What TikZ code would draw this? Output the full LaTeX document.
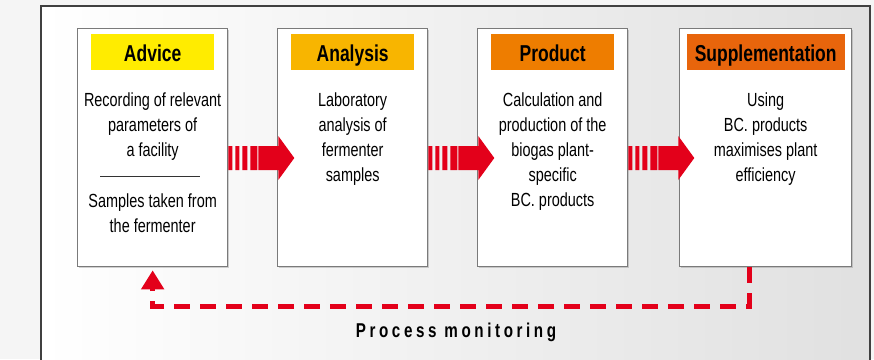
\documentclass[tikz,border=0pt]{standalone}
\usepackage{fontspec}
\setmainfont{Liberation Sans}[FakeStretch=0.76]
\usetikzlibrary{arrows.meta,shadows}
\definecolor{bcred}{HTML}{E3001A}
\definecolor{cadv}{HTML}{FFEC00}
\definecolor{cana}{HTML}{F8B500}
\definecolor{cprod}{HTML}{EE7D00}
\definecolor{csupp}{HTML}{E8650C}
\definecolor{boxline}{HTML}{7A7A7A}
\tikzset{
  stagebox/.style={draw=boxline, line width=1.3pt, fill=white, anchor=north west,
    minimum height=238pt, inner sep=0pt,
    drop shadow={shadow xshift=1pt, shadow yshift=-1pt, opacity=0.35}},
  hdr/.style={minimum height=36pt, inner sep=0pt, text=black,
    text height=18pt, text depth=0pt,
    font=\bfseries\fontsize{23}{23}\selectfont},
  body/.style={anchor=north, align=center, inner sep=0pt,
    font=\fontsize{19}{25}\selectfont},
  fb/.style={draw=bcred, line width=5pt, dash pattern=on 16pt off 10pt},
  stripearrow/.pic={
    \fill[bcred] (0,-12) rectangle (4,12) (7,-12) rectangle (11,12)
      (14,-12) rectangle (19,12) (22,-12) rectangle (29,12)
      (30,-12) rectangle (50,12)
      (50,-22) -- (66,0) -- (50,22) -- cycle;
  }
}
\begin{document}
\begin{tikzpicture}[x=1pt,y=-1pt]
\useasboundingbox (0,0) rectangle (874,359);
\fill[gray!8] (0,0) rectangle (874,359);
\shade[left color=white, right color=gray!24] (41,6) rectangle (870,372);
\draw[line width=1.8pt, black!75] (41,372) -- (41,6) -- (870,6) -- (870,372);

% boxes
\node[stagebox, minimum width=150pt] (b1) at (77,28) {};
\node[stagebox, minimum width=150pt] (b2) at (277,28) {};
\node[stagebox, minimum width=150pt] (b3) at (477,28) {};
\node[stagebox, minimum width=172pt] (b4) at (679,28) {};

% headers
\node[hdr, fill=cadv, minimum width=123pt] (h1) at (b1.north |- 0,52) {Advice};
\node[hdr, fill=cana, minimum width=123pt] (h2) at (b2.north |- 0,52) {Analysis};
\node[hdr, fill=cprod, minimum width=123pt] (h3) at (b3.north |- 0,52) {Product};
\node[hdr, fill=csupp, minimum width=158pt] (h4) at (b4.north |- 0,52) {Supplementation};

% texts
\node[body] (t1) at (b1.north |- 0,93) {Recording of relevant\\parameters of\\a facility};
\draw[line width=0.8pt, black!80] (100,176) -- (200,176);
\node[body] (t1b) at (b1.north |- 0,194) {Samples taken from\\the fermenter};
\node[body] (t2) at (b2.north |- 0,93) {Laboratory\\analysis of\\fermenter\\samples};
\node[body] (t3) at (b3.north |- 0,93) {Calculation and\\production of the\\biogas plant-\\specific\\BC. products};
\node[body] (t4) at (b4.north |- 0,93) {Using\\BC. products\\maximises plant\\efficiency};

% striped arrows
\pic at (b1.east |- 0,158) {stripearrow};
\pic at (b2.east |- 0,158) {stripearrow};
\pic at (b3.east |- 0,158) {stripearrow};

% feedback
\draw[fb, -{Triangle[width=22pt,length=19pt]}, shorten >=3pt]
  (b4.south -| 749,0) -- (749,306) -| (b1.south);
\node[font=\bfseries\fontsize{20}{20}\selectfont\addfontfeature{LetterSpace=18}] (pm) at (456,332) {Process monitoring};
\end{tikzpicture}
\end{document}
